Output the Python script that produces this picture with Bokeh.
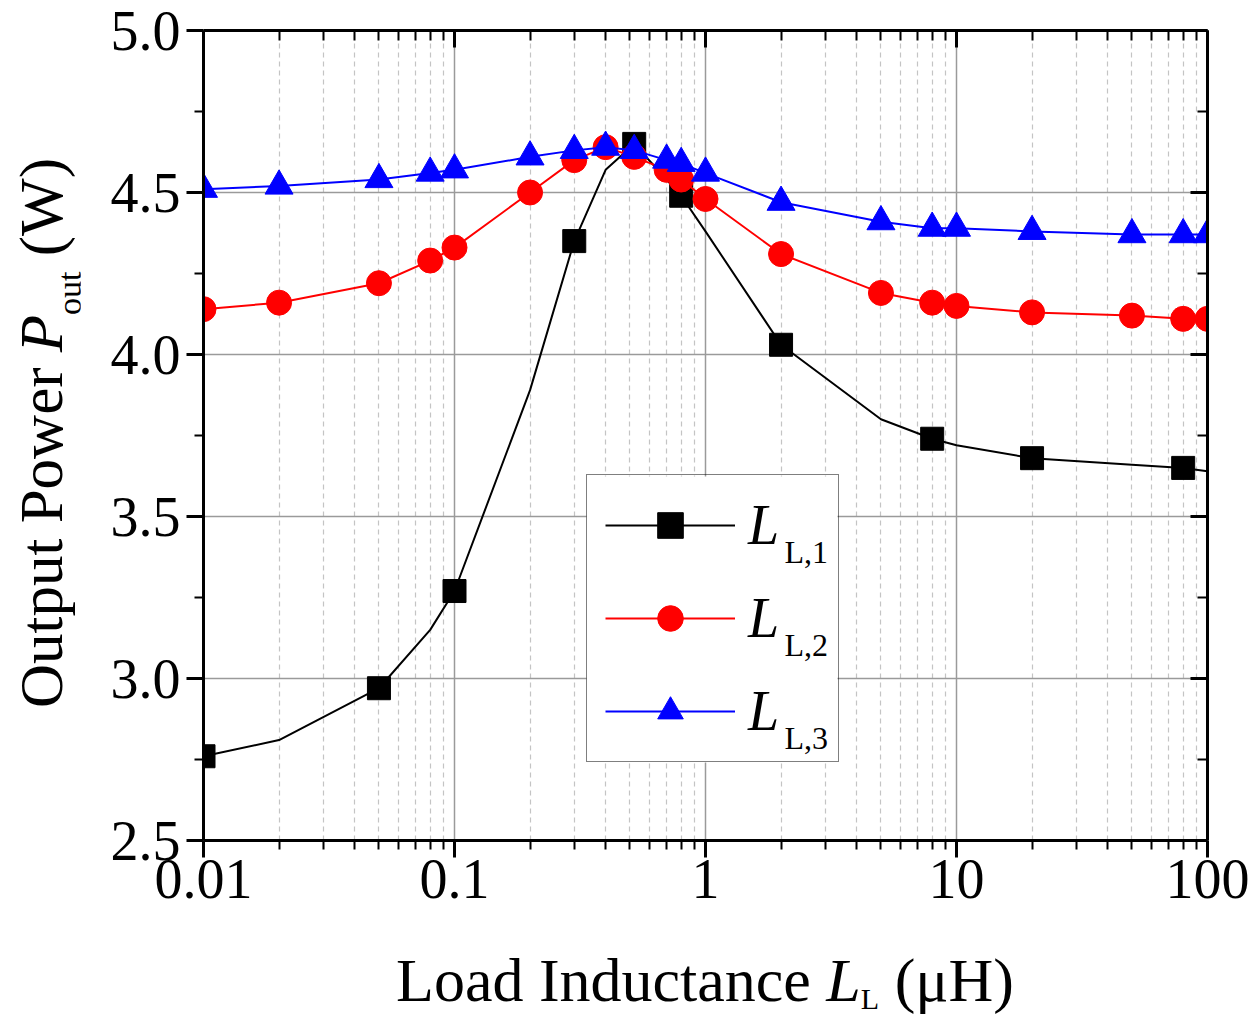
import math
from bokeh.plotting import figure
from bokeh.layouts import row, column
from bokeh.models import (LogAxis, LinearAxis, FixedTicker, CustomJSTickFormatter,
                          Legend, LegendItem, Label, Div, BoxAnnotation)
from bokeh.embed import file_html
from bokeh.resources import INLINE

# ---------------- data ----------------
inductance_uH = [0.01, 0.02, 0.05, 0.08, 0.1, 0.2, 0.3, 0.4, 0.52, 0.7,
                 0.8, 1, 2, 5, 8, 10, 20, 50, 80, 100]
pout_LL1 = [2.76, 2.81, 2.97, 3.15, 3.27, 3.89, 4.35, 4.57, 4.65, 4.54,
            4.49, 4.38, 4.03, 3.80, 3.74, 3.72, 3.68, 3.66, 3.65, 3.64]
pout_LL2 = [4.14, 4.16, 4.22, 4.29, 4.33, 4.50, 4.60, 4.64, 4.61, 4.57,
            4.54, 4.48, 4.31, 4.19, 4.16, 4.15, 4.13, 4.12, 4.11, 4.11]
pout_LL3 = [4.51, 4.52, 4.54, 4.56, 4.57, 4.61, 4.63, 4.64, 4.63, 4.60,
            4.59, 4.56, 4.47, 4.41, 4.39, 4.39, 4.38, 4.37, 4.37, 4.37]
series_subscripts = ["L,1", "L,2", "L,3"]
x_ticks = [0.01, 0.1, 1, 10, 100]
x_tick_labels = ["0.01", "0.1", "1", "10", "100"]
y_ticks = [2.5, 3.0, 3.5, 4.0, 4.5, 5.0]
y_tick_labels = ["2.5", "3.0", "3.5", "4.0", "4.5", "5.0"]

# ---------------- layout (pixels) ----------------
X_MIN, X_MAX = 0.01, 100
Y_MIN, Y_MAX = 2.5, 5.0
TOTAL_W, TOTAL_H = 1252, 1016
YDIV_W = 80                      # strip for the rotated y title
W, H = TOTAL_W - YDIV_W, 930     # figure size
XDIV_H = TOTAL_H - H             # strip for the x title
LEFT, TOP, BOTTOM = 123, 30, 90
FW, FH = 1004, H - TOP - BOTTOM
RIGHT = W - LEFT - FW
FONT = "Liberation Serif"


def xd(px):   # px: page x pixel -> data x
    lo, hi = math.log10(X_MIN), math.log10(X_MAX)
    return 10 ** (lo + (px - YDIV_W - LEFT) / FW * (hi - lo))


def yd(py):   # py: page y pixel -> data y
    return Y_MIN + (TOP + FH - py) / FH * (Y_MAX - Y_MIN)


# ---------------- figure ----------------
p = figure(width=W, height=H, x_axis_type="log",
           x_range=(X_MIN, X_MAX), y_range=(Y_MIN, Y_MAX),
           output_backend="svg", toolbar_location=None,
           min_border_left=LEFT, min_border_right=RIGHT,
           min_border_top=TOP, min_border_bottom=BOTTOM, margin=0)
p.outline_line_color = None
p.background_fill_color = "white"
p.border_fill_color = "white"

x_minor = [m * 10 ** e for e in range(-2, 2) for m in range(2, 10)]
y_minor = [(a + b) / 2 for a, b in zip(y_ticks[:-1], y_ticks[1:])]
xticker = FixedTicker(ticks=x_ticks, minor_ticks=x_minor)
yticker = FixedTicker(ticks=y_ticks, minor_ticks=y_minor)

xfmt = CustomJSTickFormatter(args=dict(tvals=x_ticks, tlabels=x_tick_labels), code="""
const i = tvals.findIndex(t => Math.abs(Math.log10(t) - Math.log10(tick)) < 1e-6);
return i >= 0 ? tlabels[i] : '';
""")
yfmt = CustomJSTickFormatter(args=dict(tvals=y_ticks, tlabels=y_tick_labels), code="""
const i = tvals.findIndex(t => Math.abs(t - tick) < 1e-6);
return i >= 0 ? tlabels[i] : '';
""")
blank_fmt = CustomJSTickFormatter(code="return '';")


def style_axis(ax, inward):
    ax.axis_line_width = 3
    ax.axis_line_color = "black"
    ax.major_tick_line_width = 3
    ax.minor_tick_line_width = 2
    ax.major_tick_line_color = "black"
    ax.minor_tick_line_color = "black"
    if inward:
        ax.major_tick_in, ax.major_tick_out = 17, 0
        ax.minor_tick_in, ax.minor_tick_out = 10, 0
        ax.formatter = blank_fmt
        ax.major_label_text_font_size = "1px"
        ax.major_label_text_color = None
        ax.major_label_standoff = 0
    else:
        ax.major_tick_in, ax.major_tick_out = 0, 17
        ax.minor_tick_in, ax.minor_tick_out = 0, 9
        ax.major_label_text_font = FONT
        ax.major_label_text_font_size = "56px"
        ax.major_label_text_color = "black"


xa = p.xaxis[0]
xa.ticker = xticker
xa.formatter = xfmt
style_axis(xa, False)
xa.major_label_standoff = 2

ya = p.yaxis[0]
ya.ticker = yticker
ya.formatter = yfmt
style_axis(ya, False)
ya.major_label_standoff = 6

top_ax = LogAxis(ticker=FixedTicker(ticks=x_ticks, minor_ticks=x_minor))
style_axis(top_ax, True)
p.add_layout(top_ax, "above")
right_ax = LinearAxis(ticker=FixedTicker(ticks=y_ticks, minor_ticks=y_minor))
style_axis(right_ax, True)
p.add_layout(right_ax, "right")

p.xgrid.ticker = xticker
p.ygrid.ticker = yticker
p.xgrid.grid_line_color = "#9a9a9a"
p.xgrid.grid_line_width = 1.5
p.xgrid.minor_grid_line_color = "#c4c4c4"
p.xgrid.minor_grid_line_width = 1.2
p.xgrid.minor_grid_line_dash = "5 4"
p.ygrid.grid_line_color = "#9a9a9a"
p.ygrid.grid_line_width = 1.5

# ---------------- legend background (white box under the legend) ----------------
LEG_L, LEG_T = 586, 476                      # page pixels
PAD, GH, SP, GW, STAND, LW = 18, 64, 29, 130, 13, 72
LEG_W = 2 * PAD + GW + STAND + LW
LEG_H = 2 * PAD + 3 * GH + 2 * SP
LEG_B = LEG_T + LEG_H
p.add_layout(BoxAnnotation(left=xd(LEG_L), right=xd(LEG_L + LEG_W),
                           top=yd(LEG_T), bottom=yd(LEG_B), level="underlay",
                           fill_color="white", fill_alpha=1.0, line_color=None))

# ---------------- series ----------------
r1l = p.line(inductance_uH, pout_LL1, line_color="black", line_width=2)
r1m = p.scatter(inductance_uH[::2], pout_LL1[::2], marker="square", size=23,
                fill_color="black", line_color="black")
r2l = p.line(inductance_uH, pout_LL2, line_color="#ff0000", line_width=2)
r2m = p.scatter(inductance_uH, pout_LL2, marker="circle", size=25,
                fill_color="#ff0000", line_color="#ff0000")
r3l = p.line(inductance_uH, pout_LL3, line_color="#0000ff", line_width=2)
r3m = p.scatter(inductance_uH, pout_LL3, marker="triangle", size=28,
                fill_color="#0000ff", line_color="#0000ff")

# ---------------- legend ----------------
legend = Legend(items=[LegendItem(label="L", renderers=[r1l, r1m]),
                       LegendItem(label="L", renderers=[r2l, r2m]),
                       LegendItem(label="L", renderers=[r3l, r3m])],
                location=(LEG_L - YDIV_W - LEFT, TOP + FH - LEG_B), orientation="vertical",
                padding=PAD, spacing=SP, margin=0,
                glyph_width=GW, glyph_height=GH, label_height=GH, label_width=LW,
                label_standoff=STAND,
                label_text_font=FONT, label_text_font_style="italic",
                label_text_font_size="56px", label_text_color="black",
                border_line_color="black", border_line_width=1.5,
                background_fill_alpha=0.0)
p.add_layout(legend)

for k, sub in enumerate(series_subscripts):
    cy = LEG_T + PAD + GH / 2 + k * (GH + SP)
    p.add_layout(Label(x=xd(784), y=yd(cy + 25), text=sub, level="overlay",
                       text_font=FONT, text_font_size="32px", text_color="black",
                       text_align="left", text_baseline="alphabetic"))

# ---------------- axis titles (HTML text with italics / subscripts) ----------------
frame_cx = YDIV_W + LEFT + FW / 2
title_cy = 433

ytitle = Div(width=YDIV_W, height=H, margin=0, text=(
    f'<div style="position:relative;width:{YDIV_W}px;height:{H}px;">'
    f'<div style="position:absolute;left:11px;top:{title_cy}px;'
    'transform-origin:0 0;transform:rotate(-90deg) translateX(-50%);'
    f'white-space:nowrap;font-family:\'{FONT}\',serif;font-size:61px;line-height:61px;color:#000;">'
    'Output Power <i>P</i><span style="font-size:34px;line-height:1;position:relative;top:19px;">out</span> (W)'
    '</div></div>'))

xtitle = Div(width=TOTAL_W, height=XDIV_H, margin=0, text=(
    f'<div style="position:relative;width:{TOTAL_W}px;height:{XDIV_H}px;overflow:hidden;">'
    f'<div style="position:absolute;left:{frame_cx:.0f}px;top:19px;transform:translateX(-50%);'
    f'white-space:nowrap;font-family:\'{FONT}\',serif;font-size:62px;line-height:62px;color:#000;">'
    'Load Inductance <i>L</i><span style="font-size:30px;line-height:1;position:relative;top:8px;">L</span> (μH)'
    '</div></div>'))

layout = column(row(ytitle, p, spacing=0), xtitle, spacing=0)

open("out.html", "w").write(file_html(layout, INLINE))
